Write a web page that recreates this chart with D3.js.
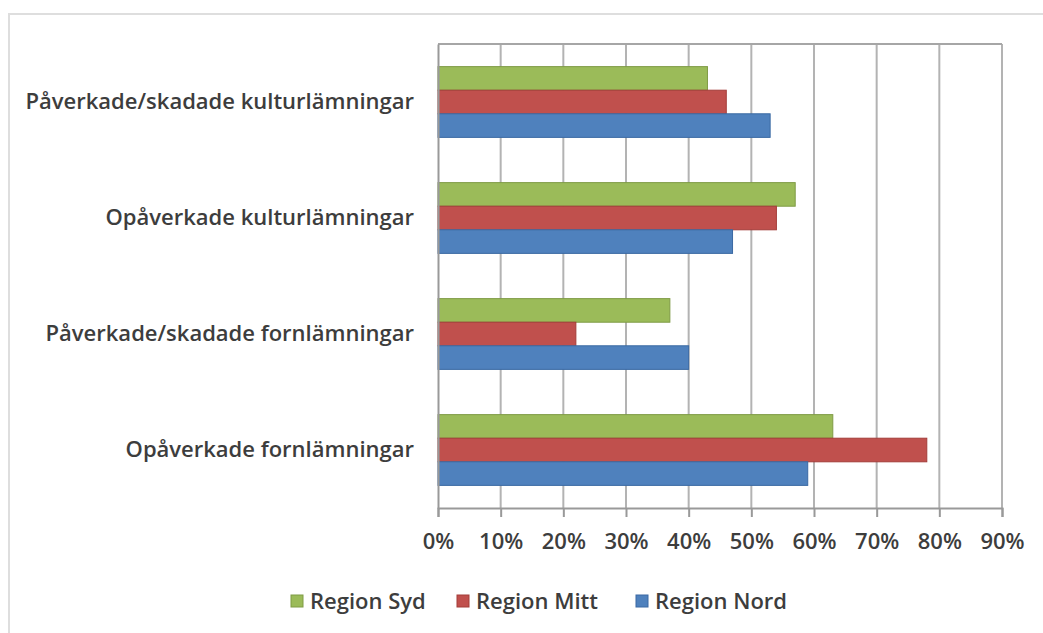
<!DOCTYPE html>
<html>
<head>
<meta charset="utf-8">
<script src="https://cdnjs.cloudflare.com/ajax/libs/d3/7.8.5/d3.min.js"></script>
<style>
  body { margin: 0; background: #fff; }
  text { font-family: "Open Sans", sans-serif; font-weight: 600; fill: #3d3d3d; }
</style>
</head>
<body>
<div id="chart"></div>
<script>
var w = 1043, h = 633;
var margin = {left: 438, right: 41, top: 44, bottom: 125};

var categories = ["Påverkade/skadade kulturlämningar", "Opåverkade kulturlämningar",
                  "Påverkade/skadade fornlämningar", "Opåverkade fornlämningar"];
var seriesNames = ["Region Syd", "Region Mitt", "Region Nord"];
var colors = ["#9bbb59", "#c0504d", "#4f81bd"];
var strokes = ["#7f9b45", "#a33c39", "#3a69a3"];
var regionSyd  = [43, 57, 37, 63];
var regionMitt = [46, 54, 22, 78];
var regionNord = [53, 47, 40, 59];
var tickValues = [0, 10, 20, 30, 40, 50, 60, 70, 80, 90];

var series = [regionSyd, regionMitt, regionNord];

var svg = d3.select("#chart").append("svg")
  .attr("width", w)
  .attr("height", h);

// outer frame
svg.append("rect")
  .attr("x", 9).attr("y", 14)
  .attr("width", w).attr("height", h)
  .attr("fill", "none")
  .attr("stroke", "#dedede")
  .attr("stroke-width", 2);

var xScale = d3.scaleLinear()
  .domain([0, 90])
  .range([margin.left, w - margin.right]);

var yScale = d3.scaleBand()
  .domain(categories)
  .range([margin.top, h - margin.bottom])
  .paddingInner(0.39)
  .paddingOuter(0.195);

var yInner = d3.scaleBand()
  .domain(d3.range(seriesNames.length))
  .range([0, yScale.bandwidth()]);

// gridlines
svg.append("g")
  .selectAll("line")
  .data(tickValues.slice(1))
  .enter()
  .append("line")
  .attr("x1", function(d) { return xScale(d); })
  .attr("x2", function(d) { return xScale(d); })
  .attr("y1", margin.top)
  .attr("y2", h - margin.bottom)
  .attr("stroke", "#b3b3b3")
  .attr("stroke-width", 2);

// top border of plot
svg.append("line")
  .attr("x1", xScale(0)).attr("x2", xScale(90))
  .attr("y1", margin.top).attr("y2", margin.top)
  .attr("stroke", "#a6a6a6").attr("stroke-width", 2);

// bars
series.forEach(function(vals, si) {
  svg.append("g")
    .selectAll("rect")
    .data(vals)
    .enter()
    .append("rect")
    .attr("x", xScale(0))
    .attr("y", function(d, i) { return yScale(categories[i]) + yInner(si); })
    .attr("width", function(d) { return xScale(d) - xScale(0); })
    .attr("height", yInner.bandwidth())
    .attr("fill", colors[si])
    .attr("stroke", strokes[si])
    .attr("stroke-width", 1);
});

// x axis
var xAxis = d3.axisBottom(xScale)
  .tickValues(tickValues)
  .tickSize(9)
  .tickPadding(16)
  .tickFormat(function(d) { return d + "%"; });

var gx = svg.append("g")
  .attr("transform", "translate(0," + (h - margin.bottom) + ")")
  .call(xAxis);
gx.select(".domain").attr("stroke", "#999").attr("stroke-width", 2);
gx.selectAll(".tick line").attr("stroke", "#999").attr("stroke-width", 2);
gx.selectAll(".tick text")
  .attr("font-size", "22px")
  .attr("fill", "#3d3d3d")
  .style("font-family", "'Open Sans', sans-serif")
  .style("font-weight", 600);

// y axis line
var yAxis = d3.axisLeft(yScale).tickSize(0).tickPadding(24);
var gy = svg.append("g")
  .attr("transform", "translate(" + margin.left + ",0)")
  .call(yAxis);
gy.select(".domain").attr("stroke", "#999").attr("stroke-width", 2);
gy.selectAll(".tick text")
  .attr("font-size", "22px")
  .attr("fill", "#3d3d3d")
  .style("font-family", "'Open Sans', sans-serif")
  .style("font-weight", 600);

// legend
var legendX = [291, 457, 636];
var legend = svg.append("g")
  .selectAll("g")
  .data(seriesNames)
  .enter()
  .append("g")
  .attr("transform", function(d, i) { return "translate(" + legendX[i] + ",601)"; });

legend.append("rect")
  .attr("x", 0).attr("y", -6)
  .attr("width", 12).attr("height", 12)
  .attr("fill", function(d, i) { return colors[i]; })
  .attr("stroke", function(d, i) { return strokes[i]; });

legend.append("text")
  .attr("x", 19)
  .attr("dy", "0.35em")
  .attr("font-size", "22px")
  .text(function(d) { return d; });
</script>
</body>
</html>
